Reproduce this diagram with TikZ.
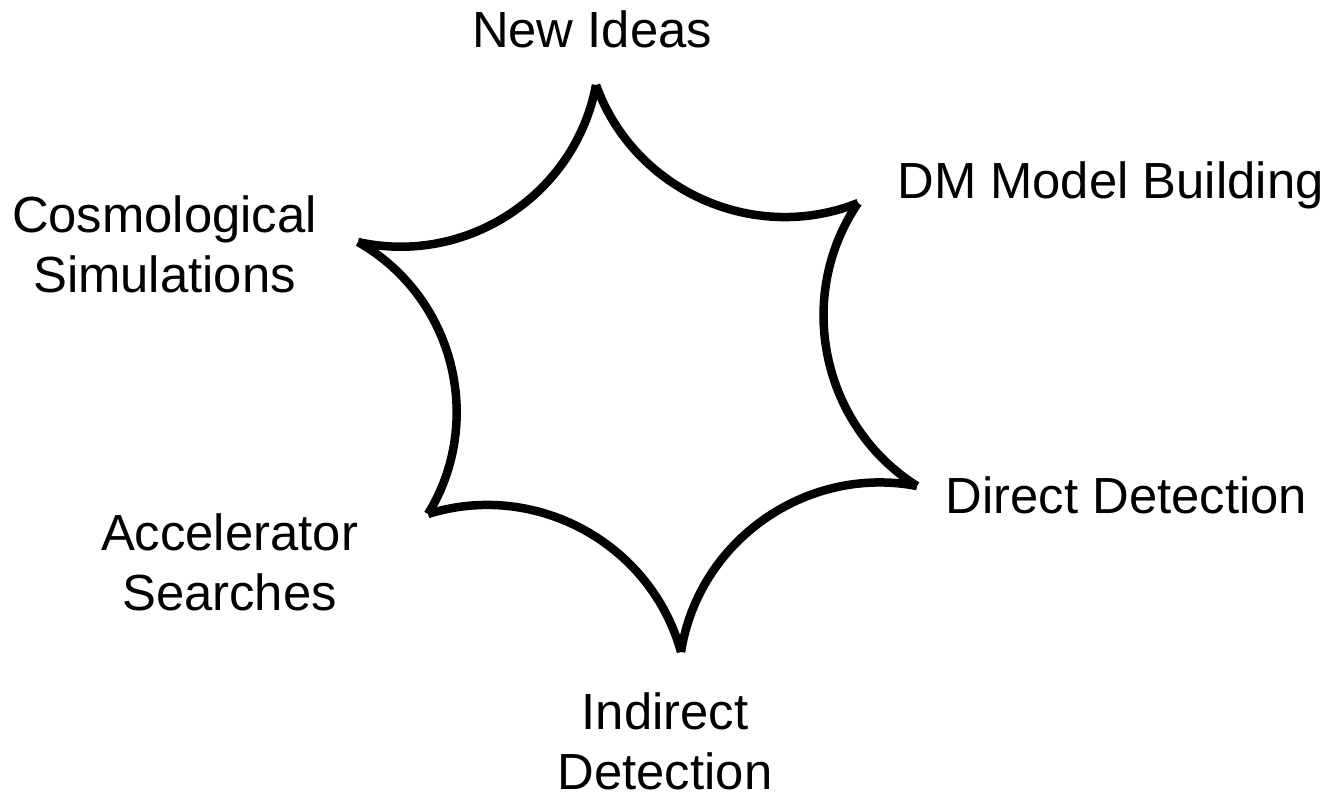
\documentclass[tikz,border=0pt]{standalone}
\usepackage{fontspec}
\setmainfont{Liberation Sans}
\begin{document}
\begin{tikzpicture}[x=1pt,y=-1pt,
  lbl/.style={font=\fontsize{50.8}{60}\selectfont, inner sep=0pt, align=center, anchor=base},
  rim/.style={line width=8.5pt, line cap=butt}]
\useasboundingbox (0,0) rectangle (1342,801);
% cusps of the six-pointed star
\coordinate (p1) at (596,85);
\coordinate (p2) at (858,203);
\coordinate (p3) at (917,486);
\coordinate (p4) at (681,652);
\coordinate (p5) at (428,514);
\coordinate (p6) at (358,242);
% concave sides, each drawn on its own so the tips stay square
\draw[rim] (p1) to[bend right=46] (p2);
\draw[rim] (p2) to[bend right=46] (p3);
\draw[rim] (p3) to[bend right=46] (p4);
\draw[rim] (p4) to[bend right=46] (p5);
\draw[rim] (p5) to[bend right=46] (p6);
\draw[rim] (p6) to[bend right=46] (p1);
% labels (a two-line label sits on the baseline of its last line)
\node[lbl] (ideas) at (592,47) {New Ideas};
\node[lbl] (model) at (1110.5,198) {DM Model Building};
\node[lbl] (cosmo) at (164.5,292) {Cosmological\\Simulations};
\node[lbl] (direct) at (1126.5,513) {Direct Detection};
\node[lbl] (accel) at (229.5,610) {Accelerator\\Searches};
\node[lbl] (indirect) at (665,789) {Indirect\\Detection};
\end{tikzpicture}
\end{document}
